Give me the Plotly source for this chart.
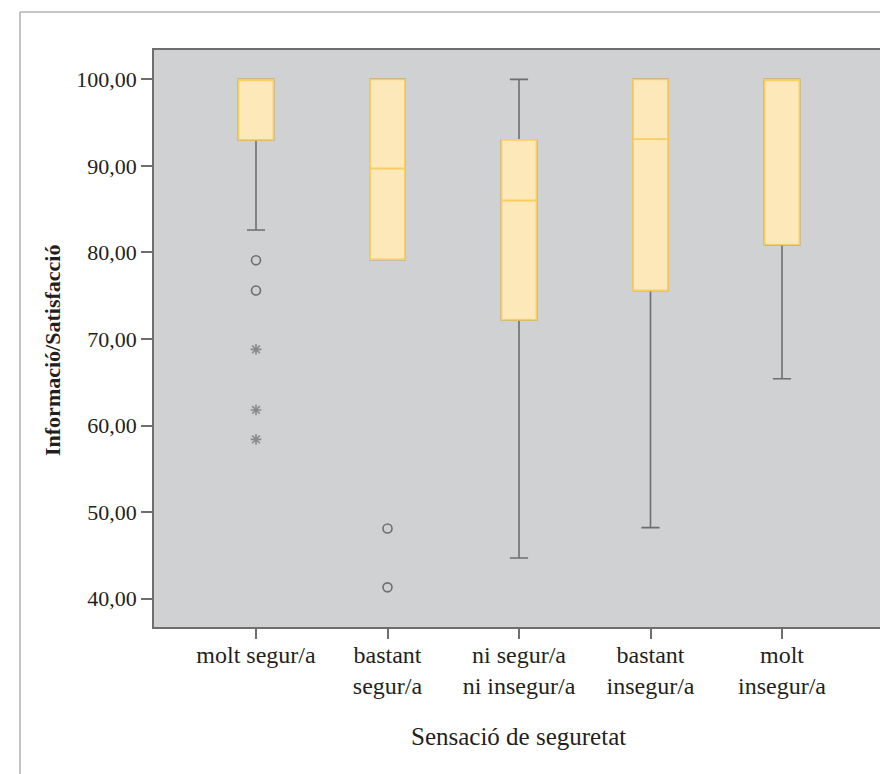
import plotly.graph_objects as go

# Categories: perceived safety
categories = ["molt segur/a", "bastant segur/a", "ni segur/a ni insegur/a",
              "bastant insegur/a", "molt insegur/a"]
tick_labels = ["molt segur/a", "bastant<br>segur/a", "ni segur/a<br>ni insegur/a",
               "bastant<br>insegur/a", "molt<br>insegur/a"]

# Box-plot summary statistics of Informació/Satisfacció
q1 = [93.0, 79.2, 72.2, 75.6, 80.9]
median = [100.0, 89.7, 86.0, 93.1, 100.0]
q3 = [100.0, 100.0, 93.0, 100.0, 100.0]
lower_whisker = [82.6, 79.2, 44.7, 48.2, 65.4]
upper_whisker = [100.0, 100.0, 100.0, 100.0, 100.0]

# Outliers (circles) and extreme values (asterisks)
outlier_cat = ["molt segur/a", "molt segur/a", "bastant segur/a", "bastant segur/a"]
outlier_val = [79.1, 75.6, 48.1, 41.3]
extreme_cat = ["molt segur/a", "molt segur/a", "molt segur/a"]
extreme_val = [68.8, 61.8, 58.4]

y_ticks = [40, 50, 60, 70, 80, 90, 100]

W, H = 880, 774
L, R, T, B = 154, 0, 50, 147
plot_w = W - L - R
plot_h = H - T - B


def px_x(px):
    return (px - L) / plot_w


def px_y(py):
    return (H - B - py) / plot_h


FONT = "Liberation Serif"
TEXT = "#231f20"
GRAY = "#6e6e6e"
BOX_W = 0.266

fig = go.Figure()

# whiskers (gray)
fig.add_trace(go.Box(
    x=categories, q1=q1, median=median, q3=q3,
    lowerfence=lower_whisker, upperfence=upper_whisker,
    width=BOX_W, whiskerwidth=0.52,
    line=dict(color=GRAY, width=1.6),
    fillcolor="rgba(0,0,0,0)", boxpoints=False,
    hoverinfo="skip", showlegend=False,
))
# boxes (yellow) on top of the whiskers
fig.add_trace(go.Box(
    x=categories, q1=q1, median=median, q3=q3,
    lowerfence=q1, upperfence=q3,
    width=BOX_W, whiskerwidth=0,
    line=dict(color="#F9CE60", width=1.8),
    fillcolor="#FDE8BA", boxpoints=False,
    hoverinfo="skip", showlegend=False,
))
fig.add_trace(go.Scatter(
    x=outlier_cat, y=outlier_val, mode="markers",
    marker=dict(symbol="circle-open", size=9, color=GRAY, line=dict(width=1.6, color=GRAY)),
    hoverinfo="skip", showlegend=False,
))
fig.add_trace(go.Scatter(
    x=extreme_cat, y=extreme_val, mode="markers",
    marker=dict(symbol="asterisk-open", size=9, color="#8a8a8a", line=dict(width=1.6, color="#8a8a8a")),
    hoverinfo="skip", showlegend=False,
))

# x range: first category centre at 256px, last at 782px
cat_px = (782 - 256) / 4
x0 = -(256 - L) / cat_px
x1 = 4 + (W - R - 782) / cat_px

fig.update_layout(
    width=W, height=H,
    margin=dict(l=L, r=R, t=T, b=B),
    paper_bgcolor="white",
    plot_bgcolor="#D0D1D3",
    boxmode="overlay",
    separators=",.",
    font=dict(family=FONT, size=22, color=TEXT),
    xaxis=dict(
        type="category", categoryorder="array", categoryarray=categories,
        range=[x0, x1],
        tickmode="array", tickvals=categories, ticktext=tick_labels,
        ticks="outside", ticklen=10, tickwidth=1.5, tickcolor=GRAY,
        ticklabelstandoff=-5,
        showline=True, linecolor=GRAY, linewidth=1.8, mirror=True,
        showgrid=False, zeroline=False,
        tickfont=dict(family=FONT, size=24, color=TEXT),
    ),
    yaxis=dict(
        range=[36.72, 103.39],
        tickmode="array", tickvals=y_ticks, tickformat=".2f",
        ticks="outside", ticklen=11, tickwidth=1.5, tickcolor=GRAY,
        showline=True, linecolor=GRAY, linewidth=1.8, mirror=False,
        showgrid=False, zeroline=False,
        tickfont=dict(family=FONT, size=22, color=TEXT),
    ),
    shapes=[
        dict(type="line", xref="paper", yref="paper",
             x0=px_x(20), y0=px_y(12), x1=px_x(W + 5), y1=px_y(12),
             line=dict(color="#b3b3b3", width=1.6)),
        dict(type="line", xref="paper", yref="paper",
             x0=px_x(20), y0=px_y(12), x1=px_x(20), y1=px_y(H + 5),
             line=dict(color="#b3b3b3", width=1.6)),
    ],
    annotations=[
        dict(text="<b>Informació/Satisfacció</b>", xref="paper", yref="paper",
             x=px_x(52), y=px_y(351), xanchor="center", yanchor="middle",
             textangle=-90, showarrow=False,
             font=dict(family=FONT, size=22, color=TEXT)),
        dict(text="Sensació de seguretat", xref="paper", yref="paper",
             x=px_x(518), y=px_y(736), xanchor="center", yanchor="middle",
             showarrow=False,
             font=dict(family=FONT, size=25, color=TEXT)),
    ],
)

fig.write_html("out.html")
